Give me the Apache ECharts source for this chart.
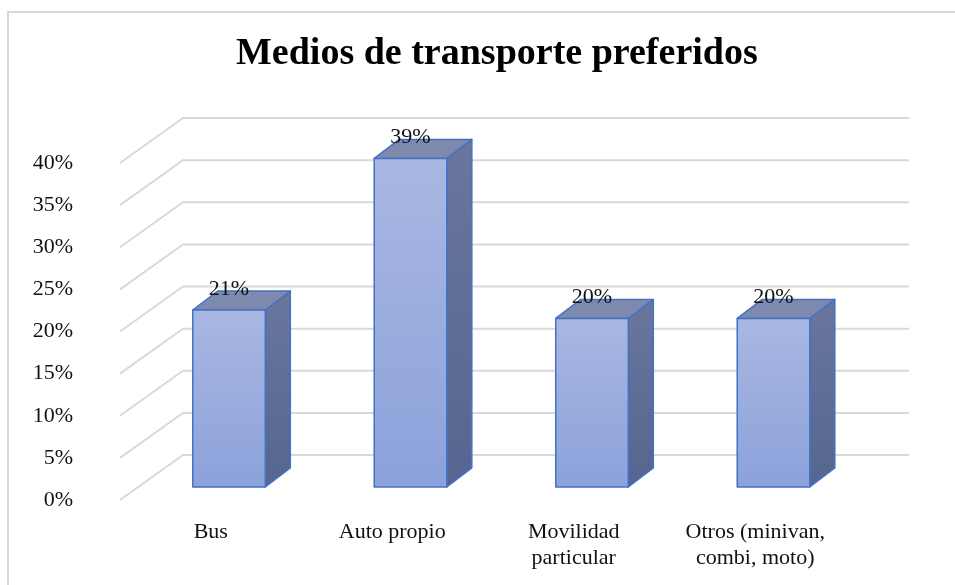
<!DOCTYPE html>
<html>
<head>
<meta charset="utf-8">
<script src="https://cdn.jsdelivr.net/npm/echarts@6/dist/echarts.min.js"></script>
<style>
  html, body { margin: 0; padding: 0; background: #fff; }
  #main { width: 955px; height: 585px; }
</style>
</head>
<body>
<div id="main"></div>
<script>
var categories = ['Bus', 'Auto propio', 'Movilidad\nparticular', 'Otros (minivan,\ncombi, moto)'];
var values = [0.21, 0.39, 0.20, 0.20];
var yTicks = [0, 0.05, 0.10, 0.15, 0.20, 0.25, 0.30, 0.35, 0.40];

// profundidad del "3D" (px)
var DX = 63, DY = -45;
var BX = 25, BY = -19;

var myChart = echarts.init(document.getElementById('main'));

function pct(v) {
    return Math.round(v * 100) + '%';
}

var option = {
    animation: false,
    title: {
        text: 'Medios de transporte preferidos',
        left: 231,
        top: 30,
        textStyle: {
            fontFamily: 'Liberation Serif',
            fontWeight: 'bold',
            fontSize: 38,
            color: '#000'
        }
    },
    graphic: [{
        type: 'rect',
        shape: { x: 8, y: 12, width: 960, height: 600 },
        style: { fill: 'none', stroke: '#d9d9d9', lineWidth: 2 },
        silent: true
    }],
    grid: {
        left: 120,
        right: 109,
        top: 163,
        bottom: 85
    },
    xAxis: {
        type: 'category',
        data: categories,
        axisLine: { show: false },
        axisTick: { show: false },
        axisLabel: {
            margin: 19,
            interval: 0,
            fontFamily: 'Liberation Serif',
            fontSize: 22,
            lineHeight: 26,
            color: '#111'
        }
    },
    yAxis: {
        type: 'value',
        min: 0,
        max: 0.4,
        interval: 0.05,
        splitLine: { show: false },
        axisLine: { show: false },
        axisTick: { show: false },
        axisLabel: {
            margin: 47,
            formatter: pct,
            fontFamily: 'Liberation Serif',
            fontSize: 22,
            color: '#111'
        }
    },
    series: [{
        // lineas de division (pared lateral y fondo)
        type: 'custom',
        z: 1,
        silent: true,
        data: yTicks.map(function (t) { return [0, t]; }),
        encode: { x: 0, y: 1 },
        renderItem: function (params, api) {
            var band = api.size([1, 0])[0];
            var p0 = api.coord([0, api.value(1)]);
            var p3 = api.coord([categories.length - 1, api.value(1)]);
            var xl = p0[0] - band / 2;
            var xr = p3[0] + band / 2;
            var y = p0[1];
            return {
                type: 'polyline',
                shape: { points: [[xl, y], [xl + DX, y + DY], [xr + DX, y + DY]] },
                style: { stroke: '#d9d9d9', lineWidth: 2, fill: 'none' }
            };
        }
    }, {
        name: 'Medios',
        type: 'custom',
        z: 2,
        data: values.map(function (v, i) { return [i, v]; }),
        encode: { x: 0, y: 1 },
        renderItem: function (params, api) {
            var band = api.size([1, 0])[0];
            var w = band * 0.4;
            var base = api.coord([api.value(0), 0]);
            var top = api.coord([api.value(0), api.value(1)]);
            var ox = DX * 0.29, oy = DY * 0.29;
            var cx = base[0] + ox;
            var x0 = cx - w / 2, x1 = cx + w / 2;
            var yB = base[1] + oy, yT = top[1] + oy;
            var edge = { stroke: '#4472c4', lineWidth: 1.5, lineJoin: 'round' };
            return {
                type: 'group',
                children: [{
                    type: 'polygon',
                    shape: { points: [[x1, yT], [x1 + BX, yT + BY], [x1 + BX, yB + BY], [x1, yB]] },
                    style: Object.assign({
                        fill: new echarts.graphic.LinearGradient(0, 0, 0, 1, [
                            { offset: 0, color: '#69779e' },
                            { offset: 1, color: '#56658f' }
                        ])
                    }, edge)
                }, {
                    type: 'polygon',
                    shape: { points: [[x0, yT], [x0 + BX, yT + BY], [x1 + BX, yT + BY], [x1, yT]] },
                    style: Object.assign({ fill: '#7d8aae' }, edge)
                }, {
                    type: 'rect',
                    shape: { x: x0, y: yT, width: w, height: yB - yT },
                    style: Object.assign({
                        fill: new echarts.graphic.LinearGradient(0, 0, 0, 1, [
                            { offset: 0, color: '#a9b7e2' },
                            { offset: 1, color: '#8ba2da' }
                        ])
                    }, edge)
                }, {
                    type: 'text',
                    style: {
                        text: pct(api.value(1)),
                        x: cx,
                        y: yT - 21,
                        align: 'center',
                        verticalAlign: 'middle',
                        fontFamily: 'Liberation Serif',
                        fontSize: 22,
                        fill: '#111'
                    }
                }]
            };
        }
    }]
};

myChart.setOption(option);
</script>
</body>
</html>
